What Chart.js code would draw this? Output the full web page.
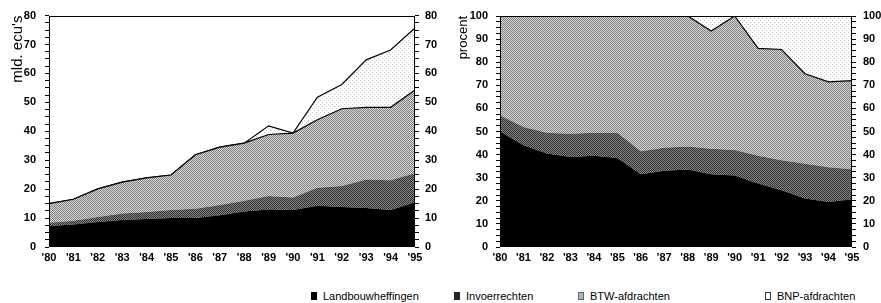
<!DOCTYPE html>
<html><head><meta charset="utf-8">
<script src="https://cdn.jsdelivr.net/npm/chart.js@4"></script>
<style>
html,body{margin:0;padding:0;background:#fff;width:881px;height:303px;overflow:hidden;font-family:"Liberation Sans",Arial,sans-serif;}
#c1{position:absolute;left:0;top:0;}
#c2{position:absolute;left:440px;top:0;}
#legend{position:absolute;top:290px;left:0;width:881px;height:14px;font-size:11px;color:#000;}
.item{position:absolute;top:0;white-space:nowrap;line-height:13px;}
.sw{position:absolute;top:2px;width:6px;height:8px;box-sizing:border-box;}
</style>
</head><body>
<canvas id="c1" width="440" height="270"></canvas>
<canvas id="c2" width="441" height="270"></canvas>
<div id="legend"></div>
<script>
const years = ["'80","'81","'82","'83","'84","'85","'86","'87","'88","'89","'90","'91","'92","'93","'94","'95"];
const seriesNames = ["Landbouwheffingen","Invoerrechten","BTW-afdrachten","BNP-afdrachten"];
// left chart: mld. ecu's
const landbouwAbs = [7.3, 7.8, 8.6, 9.3, 9.7, 10.0, 10.0, 11.0, 12.3, 13.0, 12.8, 14.3, 13.8, 13.5, 12.8, 15.5];
const invoerAbs   = [1.1, 1.3, 1.8, 2.3, 2.4, 2.8, 3.2, 3.5, 3.7, 4.6, 4.3, 6.2, 7.3, 9.8, 10.3, 10.0];
const btwAbs      = [6.6, 7.4, 9.7, 10.8, 11.8, 12.1, 18.7, 20.0, 19.9, 21.3, 22.3, 23.5, 26.7, 25.0, 25.2, 28.8];
const bnpAbs      = [0, 0, 0, 0, 0, 0, 0, 0, 0, 3.0, 0, 7.8, 8.4, 16.4, 19.8, 21.4];
// right chart: procent
const landbouwPct = [50, 44, 40.5, 39, 39.5, 38.5, 31.5, 33, 33.5, 31.5, 31, 27.5, 24.6, 21, 19.5, 20.7];
const invoerPct   = [7, 8, 9, 10, 10, 11, 10, 10, 10, 11, 11, 12, 13, 15, 15, 13];
const btwPct      = [43, 48, 50.5, 51, 50.5, 50.5, 58.5, 57, 56.5, 51, 58, 46.5, 47.9, 39, 37, 38.3];
const bnpPct      = [0, 0, 0, 0, 0, 0, 0, 0, 0, 6.5, 0, 14, 14.5, 25, 28.5, 28];
const leftTicks = [0,10,20,30,40,50,60,70,80];
const rightTicks = [0,10,20,30,40,50,60,70,80,90,100];

function halftone(a, b){
  const c = document.createElement('canvas'); c.width = 2; c.height = 2;
  const x = c.getContext('2d');
  x.fillStyle = b; x.fillRect(0,0,2,2);
  x.fillStyle = a; x.fillRect(0,0,1,1); x.fillRect(1,1,1,1);
  return x.createPattern(c, 'repeat');
}
function sparse(a, b){
  const c = document.createElement('canvas'); c.width = 4; c.height = 4;
  const x = c.getContext('2d');
  x.fillStyle = b; x.fillRect(0,0,4,4);
  x.fillStyle = a; x.fillRect(0,0,1,1); x.fillRect(2,2,1,1);
  return x.createPattern(c, 'repeat');
}

const fills = ['#000000', halftone('#2a2a2a', '#8a8a8a'), halftone('#7c7c7c', '#dcdcdc'), sparse('#c8c8c8', '#ffffff')];
const borders = [0, 0, 1.2, 1.2];

function makeDatasets(arrs){
  return arrs.map((d,i)=>({
    label: seriesNames[i], data: d,
    backgroundColor: fills[i], borderColor: '#000', borderWidth: borders[i],
    fill: i===0 ? 'origin' : '-1', pointRadius: 0, tension: 0
  }));
}

const framePlugin = {
  id:'frame',
  afterDatasetsDraw(chart){
    const a = chart.chartArea, ctx = chart.ctx;
    ctx.save(); ctx.strokeStyle='#000'; ctx.lineWidth=1;
    ctx.strokeRect(Math.round(a.left)+0.5, Math.round(a.top)+0.5, Math.round(a.right-a.left)-1, Math.round(a.bottom-a.top)-1);
    ctx.restore();
  }
};

const tickFont = {family:'"Liberation Sans", Arial, sans-serif', size:11, weight:'bold'};

function makeChart(id, arrs, maxV, majors, title, titleSize, dims){
  const lbl = v => majors.includes(v) ? String(v) : '';
  return new Chart(document.getElementById(id), {
    type:'line',
    data:{labels: years, datasets: makeDatasets(arrs)},
    plugins:[framePlugin],
    options:{
      responsive:false, animation:false,
      layout:{padding:{top:dims.top, bottom:0, left:0, right:0}},
      plugins:{legend:{display:false}, tooltip:{enabled:false}},
      scales:{
        x:{
          offset:false,
          grid:{display:false, drawTicks:false},
          border:{display:false},
          ticks:{font:tickFont, color:'#000', padding:4, maxRotation:0, autoSkip:false},
          afterFit(s){ s.height = dims.xh; }
        },
        y:{
          stacked:true, min:0, max:maxV, position:'left',
          grid:{drawOnChartArea:false, drawTicks:true, tickLength:4, color:'#000'},
          border:{display:false},
          ticks:{stepSize:2.5, autoSkip:false, font:tickFont, color:'#000', padding:dims.lp, callback:lbl},
          title:{display:true, text:title, align:'end', color:'#000', padding:{top:dims.tp,bottom:0},
                 font:{family:'"Liberation Sans", Arial, sans-serif', size:titleSize}},
          afterFit(s){ s.width = dims.lw; }
        },
        y2:{
          display:true, min:0, max:maxV, position:'right',
          grid:{drawOnChartArea:false, drawTicks:true, tickLength:4, color:'#000'},
          border:{display:false},
          ticks:{stepSize:2.5, autoSkip:false, font:tickFont, color:'#000', padding:dims.rp, callback:lbl},
          afterFit(s){ s.width = dims.rw; }
        }
      }
    }
  });
}

makeChart('c1', [landbouwAbs, invoerAbs, btwAbs, bnpAbs], 80, leftTicks, "mld. ecu's", 15,
  {top:15, xh:23, lw:49, rw:25, lp:9, rp:6, tp:9});
makeChart('c2', [landbouwPct, invoerPct, btwPct, bnpPct], 100, rightTicks, 'procent', 13,
  {top:16, xh:23, lw:60, rw:29, lp:8, rp:7, tp:16});

// legend
const legendX = [311, 454, 578, 765];
const swStyles = [
  'background:#000;',
  'background:#222;',
  'background:#b5b5b5;border:1px solid #666;',
  'background:#fff;border:1px solid #333;'
];
const lg = document.getElementById('legend');
seriesNames.forEach((n,i)=>{
  const sw = document.createElement('div');
  sw.className='sw'; sw.style.cssText = swStyles[i] + 'left:' + legendX[i] + 'px;';
  lg.appendChild(sw);
  const t = document.createElement('div');
  t.className='item'; t.style.left = (legendX[i]+12)+'px'; t.textContent = n;
  lg.appendChild(t);
});
</script>
</body></html>
